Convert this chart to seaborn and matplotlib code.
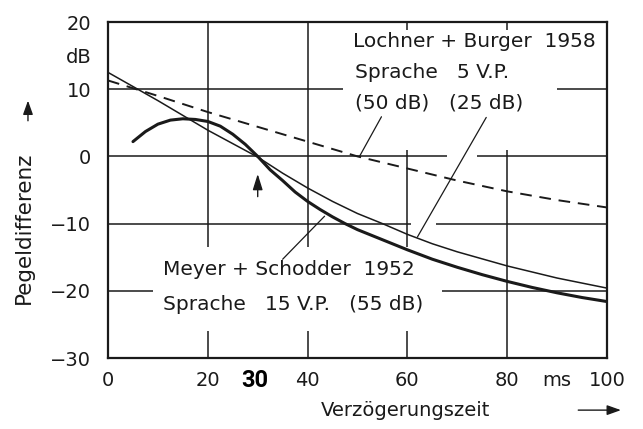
import matplotlib
matplotlib.use("Agg")
import matplotlib.pyplot as plt
import matplotlib.patches as mpatches
import seaborn as sns

# Lochner + Burger 1958, Sprache 5 V.P. (50 dB) - dashed
x_lb50 = [0, 10, 20, 30, 40, 50, 60, 70, 80, 90, 100]
y_lb50 = [11.3, 9.0, 6.6, 4.4, 2.2, 0.0, -1.8, -3.6, -5.2, -6.5, -7.6]

# Lochner + Burger 1958, Sprache 5 V.P. (25 dB) - thin
x_lb25 = [0, 5, 10, 15, 20, 25, 30, 35, 40, 45, 50, 55, 60, 65, 70, 80, 90, 100]
y_lb25 = [12.5, 10.4, 8.3, 6.1, 3.9, 1.9, -0.1, -2.5, -4.7, -6.7, -8.5, -10.0, -11.6, -13.0, -14.2,
          -16.3, -18.1, -19.6]

# Meyer + Schodder 1952, Sprache 15 V.P. (55 dB) - thick
x_ms = [5, 7.5, 10, 12.5, 15, 17.5, 20, 22.5, 25, 27.5, 30, 32.5, 35, 37.5, 40, 42.5, 45, 47.5,
        50, 55, 60, 65, 70, 75, 80, 85, 90, 95, 100]
y_ms = [2.2, 3.7, 4.8, 5.4, 5.6, 5.5, 5.2, 4.5, 3.3, 1.8, 0.0, -2.0, -3.6, -5.3, -6.7, -7.9, -9.0,
        -10.0, -10.9, -12.4, -13.9, -15.3, -16.5, -17.6, -18.6, -19.5, -20.3, -21.0, -21.6]

x_ticks = [0, 20, 40, 60, 80, 90, 100]
x_labels = ["0", "20", "40", "60", "80", "ms", "100"]
y_ticks = [-30, -20, -10, 0, 10, 15, 20]
y_labels = ["\u221230", "\u221220", "\u221210", "0", "10", "dB", "20"]

sns.set_theme(style="white")
plt.rcParams["font.family"] = ["DejaVu Sans"]
ink = "#1a1a1a"

fig = plt.figure(figsize=(6.43, 4.29), dpi=100)
ax = fig.add_axes([0.168, 0.1655, 0.776, 0.7832])

# curves
sns.lineplot(x=x_lb50, y=y_lb50, ax=ax, color=ink, lw=1.4, zorder=2)
ax.lines[-1].set_dashes([6, 4])
sns.lineplot(x=x_lb25, y=y_lb25, ax=ax, color=ink, lw=1.1, zorder=2)
sns.lineplot(x=x_ms, y=y_ms, ax=ax, color=ink, lw=2.2, zorder=2)

ax.set_xlim(0, 100)
ax.set_ylim(-30, 20)

# grid
for gx in [20, 40, 60, 80]:
    ax.axvline(gx, color=ink, lw=1.1, zorder=0.5)
for gy in [-20, -10, 0, 10]:
    ax.axhline(gy, color=ink, lw=1.1, zorder=0.5)

# white blanks where the drawing interrupts the grid
for (x0, y0, w, h) in [(47, 1, 43, 17.8), (90, 11.2, 10, 7.6), (9, -26, 58, 12.5),
                       (60.8, -10.7, 5, 1.4), (68, -0.7, 6, 1.4)]:
    ax.add_patch(mpatches.Rectangle((x0, y0), w, h, facecolor="white",
                                    edgecolor="none", zorder=1))

for s in ax.spines.values():
    s.set_visible(True)
    s.set_color(ink)
    s.set_linewidth(1.6)
    s.set_zorder(2.5)

ax.set_xticks(x_ticks)
ax.set_xticklabels(x_labels)
ax.set_yticks(y_ticks)
ax.set_yticklabels(y_labels)
ax.tick_params(axis="both", length=0, labelsize=14, colors=ink)
ax.tick_params(axis="x", pad=9)
ax.tick_params(axis="y", pad=12)

fs = 14.5
ax.text(49, 17.1, "Lochner + Burger  1958", fontsize=fs, va="center", ha="left", color=ink, zorder=3)
ax.text(49.4, 12.5, "Sprache   5 V.P.", fontsize=fs, va="center", ha="left", color=ink, zorder=3)
ax.text(49.4, 8.0, "(50 dB)", fontsize=fs, va="center", ha="left", color=ink, zorder=3)
ax.text(68.4, 8.0, "(25 dB)", fontsize=fs, va="center", ha="left", color=ink, zorder=3)
ax.text(11, -16.8, "Meyer + Schodder  1952", fontsize=fs, va="center", ha="left", color=ink, zorder=3)
ax.text(11, -22.0, "Sprache   15 V.P.   (55 dB)", fontsize=fs, va="center", ha="left", color=ink, zorder=3)

# leader lines
ax.plot([54.8, 50.4], [5.9, 0.0], color=ink, lw=0.9, zorder=2)
ax.plot([75.8, 62.0], [5.8, -12.0], color=ink, lw=0.9, zorder=2)
ax.plot([35.0, 43.4], [-15.3, -8.9], color=ink, lw=0.9, zorder=2)

# arrow marking 30 ms
ax.annotate("", xy=(30, -2.2), xytext=(30, -6.4),
            arrowprops=dict(arrowstyle="-|>,head_width=0.25,head_length=0.8",
                            color=ink, lw=1.0), zorder=3)
ax.text(29.5, -33.3, "30", fontsize=17, fontweight="bold", family="Roboto",
        ha="center", va="center", color="black")

# axis labels with arrows
fig.text(0.037, 0.469, "Pegeldifferenz", rotation=90, fontsize=15.5,
         ha="center", va="center", color=ink)
fig.text(0.63, 0.044, "Verz\u00f6gerungszeit", fontsize=14,
         ha="center", va="center", color=ink)
ax.annotate("", xy=(0.0435, 0.772), xytext=(0.0435, 0.712), xycoords="figure fraction",
            arrowprops=dict(arrowstyle="-|>,head_width=0.25,head_length=0.7", color=ink, lw=1.0))
ax.annotate("", xy=(0.97, 0.044), xytext=(0.895, 0.044), xycoords="figure fraction",
            arrowprops=dict(arrowstyle="-|>,head_width=0.25,head_length=0.7", color=ink, lw=1.0))

fig.savefig("out.png", dpi=100)
